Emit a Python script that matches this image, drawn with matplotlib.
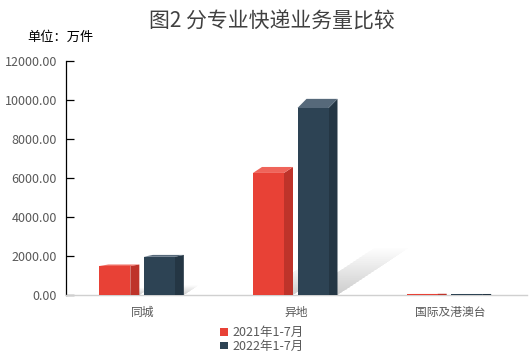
import matplotlib.pyplot as plt
from matplotlib.patches import Polygon, Patch

plt.rcParams['font.family'] = ['Noto Sans CJK SC', 'DejaVu Sans']

# data
categories = ['同城', '异地', '国际及港澳台']
series_names = ['2021年1-7月', '2022年1-7月']
values_2021 = [1490, 6260, 60]
values_2022 = [1960, 9590, 50]
y_ticks = [0, 2000, 4000, 6000, 8000, 10000, 12000]

front = ['#E84136', '#2D4354']
side = ['#BE332A', '#243644']
top = ['#EF645A', '#56697A']

W, H = 530, 357
fig = plt.figure(figsize=(W / 100, H / 100), dpi=100)
ax_l, ax_r, ax_b, ax_t = 66, 527, 295, 61
ax = fig.add_axes([ax_l / W, 1 - ax_b / H, (ax_r - ax_l) / W, (ax_b - ax_t) / H])
ax.set_xlim(-0.5, 2.5)
ax.set_ylim(0, 12000)

# pixel -> data conversions
px_x = 3 / (ax_r - ax_l)
px_y = 12000 / (ax_b - ax_t)

bar_w = 31 * px_x
dx = 9 * px_x
offsets = [-28 * px_x, 16.5 * px_x]

for s, vals in enumerate([values_2021, values_2022]):
    for i, v in enumerate(vals):
        x0 = i + offsets[s] - bar_w / 2
        x1 = x0 + bar_w
        dy = v / 1050 * px_y  # top face gets deeper the taller the bar (perspective)
        # soft shadow on the floor
        sx, sy = v * 0.0074 * px_x, v * 0.0049 * px_y
        for k in range(24):
            f = 1 - k * 0.04
            ax.add_patch(Polygon([(x0 + 6 * px_x, 0), (x1 + dx, 0),
                                  (x1 + dx + sx * f, sy * f), (x0 + 6 * px_x + sx * f, sy * f)],
                                 closed=True, facecolor='#9A9A9A', edgecolor='none',
                                 alpha=0.02, zorder=1))
        ax.add_patch(Polygon([(x1, 0), (x1 + dx, 0), (x1 + dx, v + dy), (x1, v)],
                             closed=True, facecolor=side[s], edgecolor='none', zorder=3 + s, clip_on=False))
        ax.add_patch(Polygon([(x0, v), (x1, v), (x1 + dx, v + dy), (x0 + dx, v + dy)],
                             closed=True, facecolor=top[s], edgecolor='none', zorder=3 + s, clip_on=False))
        ax.bar(x0, v, width=bar_w, align='edge', color=front[s], zorder=3 + s)

for sp in ['top', 'right']:
    ax.spines[sp].set_visible(False)
ax.spines['left'].set_color('black')
ax.spines['left'].set_linewidth(0.9)
ax.spines['bottom'].set_color('#D0D0D0')
ax.spines['bottom'].set_linewidth(1)

ax.set_yticks(y_ticks)
ax.set_yticklabels([f'{t:.2f}' for t in y_ticks])
ax.tick_params(axis='y', direction='in', length=6, width=0.9, colors='black',
               labelcolor='#595959', labelsize=9, pad=6.5)
ax.set_xticks(range(3))
ax.set_xticklabels(categories)
ax.tick_params(axis='x', length=0, labelcolor='#595959', labelsize=8.5, pad=8)

fig.text(272 / W, 1 - 22 / H, '图2 分专业快递业务量比较', ha='center', va='center',
         fontsize=15, color='#404040')
fig.text(27 / W, 1 - 37 / H, '单位：万件', ha='left', va='center', fontsize=9.5, color='black')

handles = [Patch(facecolor=front[0]), Patch(facecolor=front[1])]
fig.legend(handles, series_names, loc='upper left', bbox_to_anchor=(214 / W, 1 - 320 / H),
           frameon=False, fontsize=9, handlelength=0.6, handleheight=0.6,
           handletextpad=0.35, labelspacing=0.05, labelcolor='#595959', borderpad=0)

fig.savefig('out.png', dpi=100)
